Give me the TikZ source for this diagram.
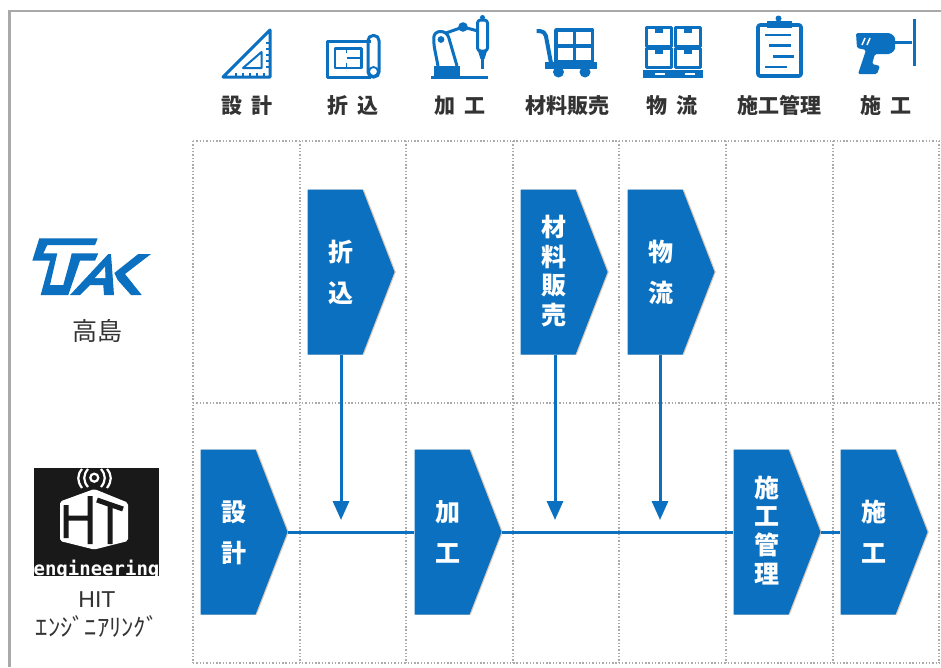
\documentclass[tikz,border=0pt]{standalone}
\usepackage{fontspec}
\setmainfont{Noto Sans CJK JP}
\newfontfamily\latinfont{Liberation Sans}
\newfontfamily\logofont{DejaVu Sans Mono}
\usetikzlibrary{arrows.meta,positioning,shapes.symbols}
\definecolor{stepblue}{HTML}{0A70BF}
\definecolor{edgetan}{HTML}{D9C8B8}
\definecolor{framegray}{HTML}{A9A9A9}
\definecolor{dotgray}{HTML}{ABABAB}
\definecolor{inkgray}{HTML}{333333}
\newcommand{\stepstack}[1]{\hspace*{12pt}\raisebox{-2pt}[\height][\depth]{\begin{tabular}{@{}c@{}}#1\end{tabular}}}
\tikzset{
  stepbox/.style={signal, signal to=east, signal pointer angle=137.6, fill=stepblue, text=white, inner sep=0pt,
    minimum width=87pt, minimum height=165pt,
    preaction={fill=edgetan, draw=none, transform canvas={xshift=1.3pt}}},
  twochar/.style={font=\bfseries\fontsize{25}{41}\selectfont},
  fourchar/.style={font=\bfseries\fontsize{25}{27.5}\selectfont},
  headlabel/.style={font=\bfseries\fontsize{21}{21}\selectfont, text=inkgray, inner sep=0pt, anchor=base},
  iconline/.style={draw=stepblue, line width=3pt, line join=round},
  iconfill/.style={fill=stepblue},
  feedline/.style={draw=stepblue, color=stepblue, line width=3pt, -{Triangle[length=19pt,width=16pt]}},
  flowline/.style={draw=stepblue, line width=3pt},
  gridline/.style={draw=dotgray, line width=1.4pt, dash pattern=on 1.4pt off 1.9pt}
}
\begin{document}
\begin{tikzpicture}[x=1pt,y=-1pt]
  \useasboundingbox (0,0) rectangle (941,667);
  \fill[white] (0,0) rectangle (941,667);

  % frame
  \draw[framegray, line width=2.6pt] (9.5,667) -- (9.5,11) -- (941,11);

  % grid
  \foreach \gx in {193,300,406,513,619,726,833,939}
    \draw[gridline] (\gx,141) -- (\gx,663);
  \foreach \gy in {141,403,663}
    \draw[gridline] (193,\gy) -- (939,\gy);

  % header labels
  \node[headlabel] (hsekkei) at (247,113) {設\hspace{9pt}計};
  \node[headlabel] (horikomi) at (353,113) {折\hspace{9pt}込};
  \node[headlabel] (hkako) at (460,113) {加\hspace{9pt}工};
  \node[headlabel] (hhanbai) at (567,113) {材料販売};
  \node[headlabel] (hbutsuryu) at (672,113) {物\hspace{9pt}流};
  \node[headlabel] (hkanri) at (779,113) {施工管理};
  \node[headlabel] (hseko) at (886,113) {施\hspace{9pt}工};

  % set square
  \draw[iconline] (270,30) -- (223,77) -- (270,77) -- cycle;
  \draw[iconline, line width=2pt] (261.5,52) -- (243,68) -- (261.5,68) -- cycle;
  \foreach \ty in {43,49,55,61,67}
    \draw[stepblue, line width=1.3pt] (270,\ty) -- (265.5,\ty);
  \foreach \tx in {236,243,250,257,264}
    \draw[stepblue, line width=1.3pt] (\tx,77) -- (\tx,72.5);

  % drawing roll
  \draw[iconline] (371,41) -- (327,41) -- (327,77) -- (371,77);
  \draw[iconline, rounded corners=5pt] (368,77) -- (368,35.5) -- (379,35.5) -- (379,77) -- cycle;
  \draw[iconline, line width=1.8pt] (373.5,71.5) circle (4.5);
  \draw[iconline, line width=2.6pt] (335,48.5) rectangle (361.5,68);
  \draw[iconline, line width=1.8pt] (346.5,48.5) -- (346.5,53) (346.5,63) -- (346.5,68) (346.5,58) -- (361.5,58);

  % robot
  \fill[iconfill] (434,66) rectangle (460,77);
  \draw[iconline] (431,77.2) -- (488,77.2);
  \draw[iconline, rounded corners=6pt] (438,66) -- (433.5,43) -- (434,31.5) -- (447,31.5) -- (457,66);
  \fill[iconfill] (441,39.5) circle (3.4);
  \draw[iconline] (446,33) -- (463,27) -- (478,31);
  \fill[iconfill] (463,27) circle (4.8);
  \draw[iconline, rounded corners=3pt] (477.5,20) rectangle (487.5,51);
  \fill[iconfill] (482.5,17.5) circle (2.5);
  \fill[iconfill] (478,51) -- (487,51) -- (484.5,59) -- (480.5,59) -- cycle;
  \draw[iconline] (482.5,59) -- (482.5,69);

  % cart
  \draw[iconline, line width=4pt, rounded corners=5pt] (536.5,31) -- (545,31) -- (551,63);
  \draw[iconline, line width=3.6pt] (556,30) rectangle (592.5,62);
  \draw[iconline, line width=3.6pt] (574.3,30) -- (574.3,62) (556,46) -- (592.5,46);
  \fill[iconfill] (545,62) rectangle (597,68.5);
  \fill[iconfill] (558.5,72) circle (5.5);
  \fill[iconfill] (585,72) circle (5.5);

  % boxes
  \foreach \bx in {646.5,675.5}
    \foreach \by in {27,48}{
      \draw[iconline] (\bx,\by) rectangle ++(24.5,19);
      \fill[iconfill] (\bx+8,\by) rectangle ++(8.5,6);
    }
  \fill[iconfill] (643,70) rectangle (703,78);
  \fill[white] (655,72.8) rectangle (665,75.3);
  \fill[white] (685,72.8) rectangle (695,75.3);

  % clipboard
  \draw[iconline, line width=3.6pt, rounded corners=2pt] (758,25) rectangle (801,76);
  \fill[iconfill] (767,21) rectangle (792,28);
  \fill[iconfill] (778.5,18.5) circle (3);
  \foreach \ly/\lx/\lw in {35/765/26, 45.5/769/22, 56.5/773/21, 67/765/22}
    \draw[stepblue, line width=2.6pt] (\lx,\ly) -- ++(\lw,0);

  % drill
  \fill[iconfill, rounded corners=1.5pt] (856,33) -- (890,33) -- (895,37) -- (895,50) -- (890,54) -- (875,54) -- (872,64) -- (880,66) -- (877,74) -- (858,74) -- (866,50) -- (857,48) -- cycle;
  \draw[white, line width=1.5pt] (862,45) -- (865,38) (867,45) -- (870,38);
  \draw[iconline] (895,42) -- (912,42);
  \draw[stepblue, line width=3.6pt] (914.5,19) -- (914.5,66);

  % tak logo
  \fill[stepblue] (39.3,238.3) -- (97.7,238.3) -- (95,245) -- (47.3,245) -- (43.3,253.3) -- (57.3,253.3) -- (50,285) -- (63.3,285) -- (70,260.7) -- (71.7,253.3) -- (98.3,253.3) -- (95,260.7) -- (80,260.7) -- (68.3,295) -- (40.7,295) -- (50,260.7) -- (32.3,260.7) -- cycle;
  \fill[stepblue] (70,295) -- (108.3,254) -- (111,254) -- (114,295) -- (104,295) -- (103.3,285) -- (90,285) -- (80,295) -- cycle;
  \fill[white] (105,266.7) -- (105.5,278) -- (95,278) -- cycle;
  \fill[stepblue] (114.3,273) -- (138.3,254) -- (151,254) -- (125,274) -- (141.7,295) -- (131,295) -- (117.7,280) -- cycle;
  \node[font=\fontsize{25}{25}\selectfont, text=inkgray, inner sep=0pt] (takashima) at (97,331) {高島};

  % hit logo
  \fill[black!90] (34,468) rectangle (159,576);
  \fill[white, rounded corners=2pt] (94.3,489) -- (128,502.7) -- (128,541) -- (94.3,549.5) -- (60,541) -- (60,501.5) -- cycle;
  \draw[black!90, line width=5pt] (66,505) -- (66,538) (66,518) -- (90,518) (90,496) -- (90,544) (97,500) -- (123,509) (110,505) -- (110,544);
  \draw[white, line width=2.2pt] (94.3,477.7) circle (4);
  \draw[white, line width=2.2pt] (88,469) .. controls (83,475) and (83,481) .. (88,487);
  \draw[white, line width=2.2pt] (101,469) .. controls (106,475) and (106,481) .. (101,487);
  \draw[white, line width=2.2pt] (82,469) .. controls (77,475) and (77,481) .. (82,488);
  \draw[white, line width=2.2pt] (107,469) .. controls (112,475) and (112,481) .. (107,488);
  \begin{scope}
    \clip (34,468) rectangle (159,576);
    \node[font=\logofont\bfseries\fontsize{19}{19}\selectfont, text=white, inner sep=0pt, anchor=base] (hitmark) at (96.5,575) {engineering};
  \end{scope}
  \node[font=\latinfont\fontsize{23}{23}\selectfont, text=inkgray, inner sep=0pt] (hitname) at (97,600) {HIT};
  \node[font=\fontsize{24.5}{25}\selectfont, text=inkgray, inner sep=0pt] (hitkana) at (97,627) {ｴﾝｼﾞﾆｱﾘﾝｸﾞ};

  % flow steps
  \node[stepbox, twochar] (sekkei) at (228,532) {\stepstack{設\\計}};
  \node[stepbox, twochar] (kako) at (442,532) {\stepstack{加\\工}};
  \node[stepbox, fourchar] (kanri) at (761,532) {\stepstack{施\\工\\管\\理}};
  \node[stepbox, twochar] (seko) at (868,532) {\stepstack{施\\工}};
  \node[stepbox, twochar] (orikomi) at (335,272) {\stepstack{折\\込}};
  \node[stepbox, fourchar] (hanbai) at (548,272) {\stepstack{材\\料\\販\\売}};
  \node[stepbox, twochar] (butsuryu) at (655,272) {\stepstack{物\\流}};

  \coordinate (orikomiend) at (341,520);
  \coordinate (hanbaiend) at (555,520);
  \coordinate (butsuryuend) at (660,520);

  \draw[flowline] (sekkei.east) -- (kako.west);
  \draw[flowline] (kako.east) -- (kanri.west);
  \draw[flowline] (kanri.east) -- (seko.west);
  \draw[feedline] (orikomiend |- orikomi.south) -- (orikomiend);
  \draw[feedline] (hanbaiend |- hanbai.south) -- (hanbaiend);
  \draw[feedline] (butsuryuend |- butsuryu.south) -- (butsuryuend);
\end{tikzpicture}
\end{document}
